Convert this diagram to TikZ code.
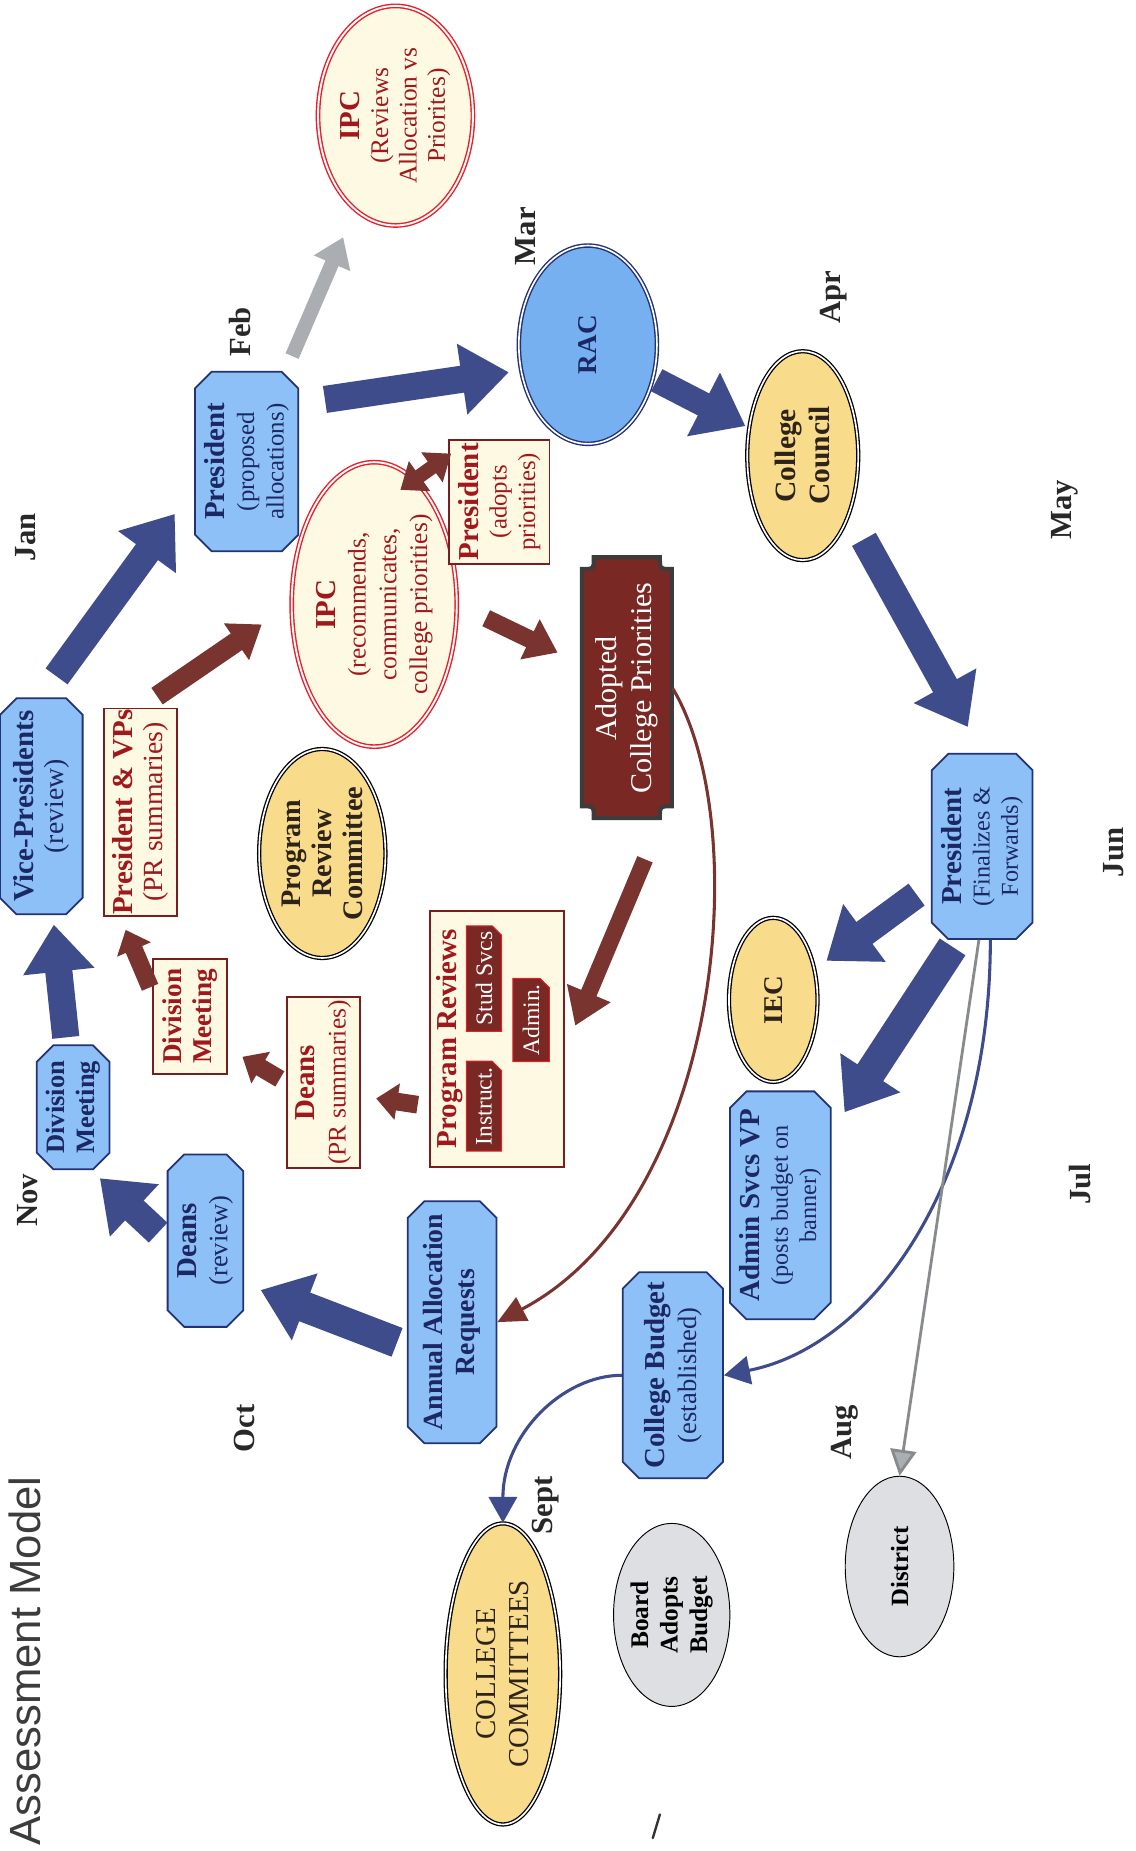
\documentclass[tikz,border=0pt]{standalone}
\usepackage{fontspec}
\setmainfont{Liberation Serif}
\newfontfamily\headfont{Liberation Sans}
\usetikzlibrary{shapes.misc,shapes.geometric,arrows.meta}
\definecolor{boxblue}{RGB}{140,192,246}
\definecolor{racblue}{RGB}{118,176,240}
\definecolor{navyline}{RGB}{35,50,115}
\definecolor{navytext}{RGB}{28,40,100}
\definecolor{arrowblue}{RGB}{62,76,140}
\definecolor{arrowred}{RGB}{122,52,47}
\definecolor{cream}{RGB}{253,249,226}
\definecolor{redtext}{RGB}{160,24,28}
\definecolor{creamline}{RGB}{120,30,30}
\definecolor{ipcred}{RGB}{232,30,40}
\definecolor{gold}{RGB}{248,220,140}
\definecolor{goldtext}{RGB}{45,35,25}
\definecolor{plaquered}{RGB}{122,40,36}
\definecolor{plaqueline}{RGB}{60,60,60}
\definecolor{ovalgray}{RGB}{222,223,226}
\definecolor{grayarrow}{RGB}{170,174,178}
\definecolor{titlegray}{RGB}{60,60,60}
\definecolor{monthtext}{RGB}{40,40,40}
\newcommand{\nm}[1]{{\fontsize{24.5}{26}\selectfont\bfseries #1}}
\begin{document}
\begin{tikzpicture}[x=1pt, y=-1pt, line width=0.6pt,
  every node/.style={rotate=90, align=center, inner sep=1pt},
  bluebox/.style={chamfered rectangle, chamfered rectangle xsep=7pt, chamfered rectangle ysep=7pt,
    fill=boxblue, draw=navyline, line width=1.5pt, text=navytext},
  creambox/.style={rectangle, fill=cream, draw=creamline, line width=1.6pt, text=redtext},
  goldoval/.style={ellipse, inner sep=0pt, fill=gold, draw=black, double=white, double distance=1.4pt,
    line width=1.1pt, text=goldtext},
  ipcoval/.style={ellipse, inner sep=0pt, fill=cream, draw=ipcred, double=white, double distance=1.6pt,
    line width=1.2pt, text=redtext},
  grayoval/.style={ellipse, inner sep=0pt, fill=ovalgray, draw=black, line width=0.8pt, text=black},
  tag/.style={chamfered rectangle, chamfered rectangle corners=south east, chamfered rectangle xsep=4pt,
    chamfered rectangle ysep=4pt, fill=plaquered, draw=ipcred, line width=0.8pt, text=white,
    font=\fontsize{20}{22}\selectfont},
  month/.style={font=\fontsize{26}{28}\selectfont\bfseries, text=monthtext},
  bigblue/.style={draw=arrowblue, line width=23pt, -{Triangle[length=40pt,width=58pt]}},
  bigred/.style={draw=arrowred, line width=15pt, -{Triangle[length=26pt,width=36pt]}},
  thinred/.style={draw=arrowred, line width=2.6pt, -{Triangle[length=24pt,width=22pt]}},
  thinblue/.style={draw=arrowblue, line width=2.6pt, -{Triangle[length=22pt,width=24pt]}}]
  \fill[white] (0,0) rectangle (962,1568);
  \useasboundingbox (0,0) rectangle (962,1568);
  \node[font=\headfont\fontsize{37}{40}\selectfont, text=titlegray] (title) at (21,1407) {Assessment Model};
  \node[month] (jan) at (22,455) {Jan};
  \node[month] (feb) at (203,281) {Feb};
  \node[month] (mar) at (445,200) {Mar};
  \node[month] (apr) at (706,252) {Apr};
  \node[month] (may) at (902,432) {May};
  \node[month] (jun) at (943,722) {Jun};
  \node[month] (jul) at (915,1003) {Jul};
  \node[month] (aug) at (716,1213) {Aug};
  \node[month] (sept) at (462,1275) {Sept};
  \node[month] (oct) at (207,1210) {Oct};
  \node[month] (nov) at (23,1017) {Nov};
  \draw[fill=plaquered, draw=plaqueline, line width=3.5pt] (503,472) -- (559,472) .. controls (559,482) .. (569,482)
    -- (569,683) .. controls (559,683) .. (559,693) -- (503,693) .. controls (503,683) .. (493,683)
    -- (493,482) .. controls (503,482) .. (503,472) -- cycle;
  \node[ipcoval, minimum width=186pt, minimum height=114pt, font=\fontsize{21.5}{24}\selectfont] (ipcrev) at (335,98)
    {\nm{IPC}\\(Reviews\\Allocation vs\\Priorites)};
  \node[bluebox, minimum width=152pt, minimum height=82pt, font=\fontsize{21}{25}\selectfont] (pres1) at (209,391)
    {\nm{President}\\(proposed\\allocations)};
  \node[ellipse, minimum width=168pt, minimum height=117pt, fill=racblue, draw=navyline, double=white,
    double distance=1.4pt, line width=1.2pt, text=navytext, font=\fontsize{23}{25}\selectfont\bfseries] (rac) at (498,292) {RAC};
  \node[goldoval, minimum width=177pt, minimum height=94pt, font=\fontsize{25}{29}\selectfont\bfseries] (ccouncil) at (680,386)
    {College\\Council};
  \node[bluebox, minimum width=183pt, minimum height=70pt, font=\fontsize{23.5}{26}\selectfont] (vp) at (35,683)
    {\nm{Vice-Presidents}\\(review)};
  \node[creambox, minimum width=175pt, minimum height=62pt, font=\fontsize{23.5}{25}\selectfont] (pvps) at (119,688)
    {\nm{President \& VPs}\\(PR summaries)};
  \node[ipcoval, minimum width=241pt, minimum height=135pt, font=\fontsize{21.5}{26}\selectfont] (ipc) at (317,512)
    {\nm{IPC}\\(recommends,\\communicates,\\college priorities)};
  \node[creambox, minimum width=105pt, minimum height=85pt, font=\fontsize{21}{24}\selectfont] (padopt) at (423,425)
    {\nm{President}\\(adopts\\priorities)};
  \node[minimum width=221pt, minimum height=77pt, text=white, font=\fontsize{25.5}{30}\selectfont] (acp) at (531,583)
    {Adopted\\College Priorities};
  \node[goldoval, minimum width=177pt, minimum height=107pt, font=\fontsize{24}{26}\selectfont\bfseries] (prc) at (273,723)
    {Program\\Review\\Committee};
  \node[bluebox, minimum width=105pt, minimum height=61pt, font=\fontsize{22.5}{25}\selectfont\bfseries] (divb) at (62,938)
    {Division\\Meeting};
  \node[creambox, minimum width=97pt, minimum height=63pt, font=\fontsize{23}{26}\selectfont\bfseries] (divc) at (161,861)
    {Division\\Meeting};
  \node[creambox, minimum width=145pt, minimum height=62pt, font=\fontsize{21.5}{26}\selectfont] (deanspr) at (274,917)
    {\nm{Deans}\\(PR summaries)};
  \node[creambox, minimum width=217pt, minimum height=113pt] (progrev) at (421,880) {};
  \node[text=redtext] (prtitle) at (381,880) {\nm{Program Reviews}};
  \node[tag, minimum width=76pt, minimum height=30pt] (instr) at (410,937) {Instruct.};
  \node[tag, minimum width=88pt, minimum height=30pt] (studs) at (410,829) {Stud Svcs};
  \node[tag, minimum width=62pt, minimum height=31pt] (admtag) at (450,864) {Admin.};
  \node[bluebox, minimum width=146pt, minimum height=64pt, font=\fontsize{22.5}{26}\selectfont] (deansr) at (174,1051)
    {\nm{Deans}\\(review)};
  \node[bluebox, minimum width=205pt, minimum height=75pt, font=\fontsize{23.5}{27}\selectfont\bfseries] (aar) at (383,1120)
    {Annual Allocation\\Requests};
  \node[goldoval, minimum width=139pt, minimum height=75pt, font=\fontsize{23}{25}\selectfont\bfseries] (iec) at (655,847) {IEC};
  \node[bluebox, minimum width=157pt, minimum height=85pt, font=\fontsize{20.5}{24}\selectfont] (pres3) at (832,717)
    {\nm{President}\\(Finalizes \&\\Forwards)};
  \node[bluebox, minimum width=193pt, minimum height=83pt, font=\fontsize{20.5}{24}\selectfont] (adminvp) at (661,1021)
    {\nm{Admin Svcs VP}\\(posts budget on\\banner)};
  \node[bluebox, minimum width=174pt, minimum height=85pt, font=\fontsize{22.5}{27}\selectfont] (budget) at (570,1165)
    {\nm{College Budget}\\(established)};
  \node[goldoval, minimum width=255pt, minimum height=97pt, font=\fontsize{24.5}{28}\selectfont] (committees) at (426,1418)
    {COLLEGE\\COMMITTEES};
  \node[grayoval, minimum width=155pt, minimum height=90pt, font=\fontsize{21.5}{25}\selectfont\bfseries] (board) at (569,1368)
    {Board\\Adopts\\Budget};
  \node[grayoval, minimum width=153pt, minimum height=92pt, font=\fontsize{21}{24}\selectfont\bfseries] (district) at (762,1327)
    {District};
  \draw[bigblue, shorten <=22pt, shorten >=28pt] (vp.east) -- (pres1.116);
  \draw[bigblue, shorten <=22pt, shorten >=10pt] (pres1.-42) -- (rac.111);
  \draw[bigblue, line width=21pt, shorten <=3pt, shorten >=3pt] (rac) -- (ccouncil);
  \draw[bigblue, shorten <=25pt, shorten >=25pt] (ccouncil.-141) -- (pres3.east);
  \draw[bigblue, shorten <=15pt, shorten >=12pt] (pres3) -- (iec);
  \draw[bigblue, line width=26pt, shorten <=7pt, shorten >=20pt] (pres3.165) -- (adminvp.-35);
  \draw[bigblue, line width=26pt, shorten <=9pt, shorten >=15pt] (aar.118) -- (deansr.-138);
  \draw[bigblue, shorten <=10pt, shorten >=10pt] (deansr.north) -- (divb.-164);
  \draw[bigblue, shorten <=6pt, shorten >=8pt] (divb) -- (vp);
  \draw[draw=grayarrow, line width=12pt, -{Triangle[length=24pt,width=32pt]}, shorten <=16pt, shorten >=25pt] (pres1) -- (ipcrev);
  \draw[bigred, line width=17pt, shorten <=17pt, shorten >=30pt] (pvps.east) -- (ipc.north);
  \draw[bigred, shorten <=27pt, shorten >=22pt] (ipc.south) -- (acp.62);
  \draw[draw=arrowred, line width=12pt, {Triangle[length=20pt,width=30pt]}-{Triangle[length=20pt,width=30pt]},
    shorten <=-15pt, shorten >=-3pt] (ipc.-18) -- (padopt.48);
  \draw[bigred, line width=14pt, -{Triangle[length=30pt,width=38pt]}, shorten <=37pt, shorten >=23pt] (acp.-165) -- (progrev.-100);
  \draw[bigred, -{Triangle[length=18pt,width=30pt]}, shorten <=10pt, shorten >=13pt] (progrev.135) -- (deanspr.-110);
  \draw[bigred, -{Triangle[length=18pt,width=30pt]}, shorten <=6pt, shorten >=14pt] (deanspr.north) -- (divc.-130);
  \draw[bigred, -{Triangle[length=18pt,width=30pt]}, shorten <=4pt, shorten >=12pt] (divc.57) -- (pvps.169);
  \draw[thinred] (acp.south) .. controls +(70,117) and +(190,-100) .. (aar.south);
  \draw[thinblue] (pres3.185) .. controls +(0,204) and +(127,-25) .. (budget.south);
  \draw[draw=grayarrow!80!black, line width=2.4pt, -{Triangle[length=22pt,width=22pt,fill=grayarrow]}] (pres3.178) -- (district.east);
  \draw[thinblue] (budget.north) .. controls +(-50,0) and +(0,-75) .. (committees.east);
  \draw[line width=2pt, black!80, line cap=round] (553,1557) -- (559,1537);
\end{tikzpicture}
\end{document}
